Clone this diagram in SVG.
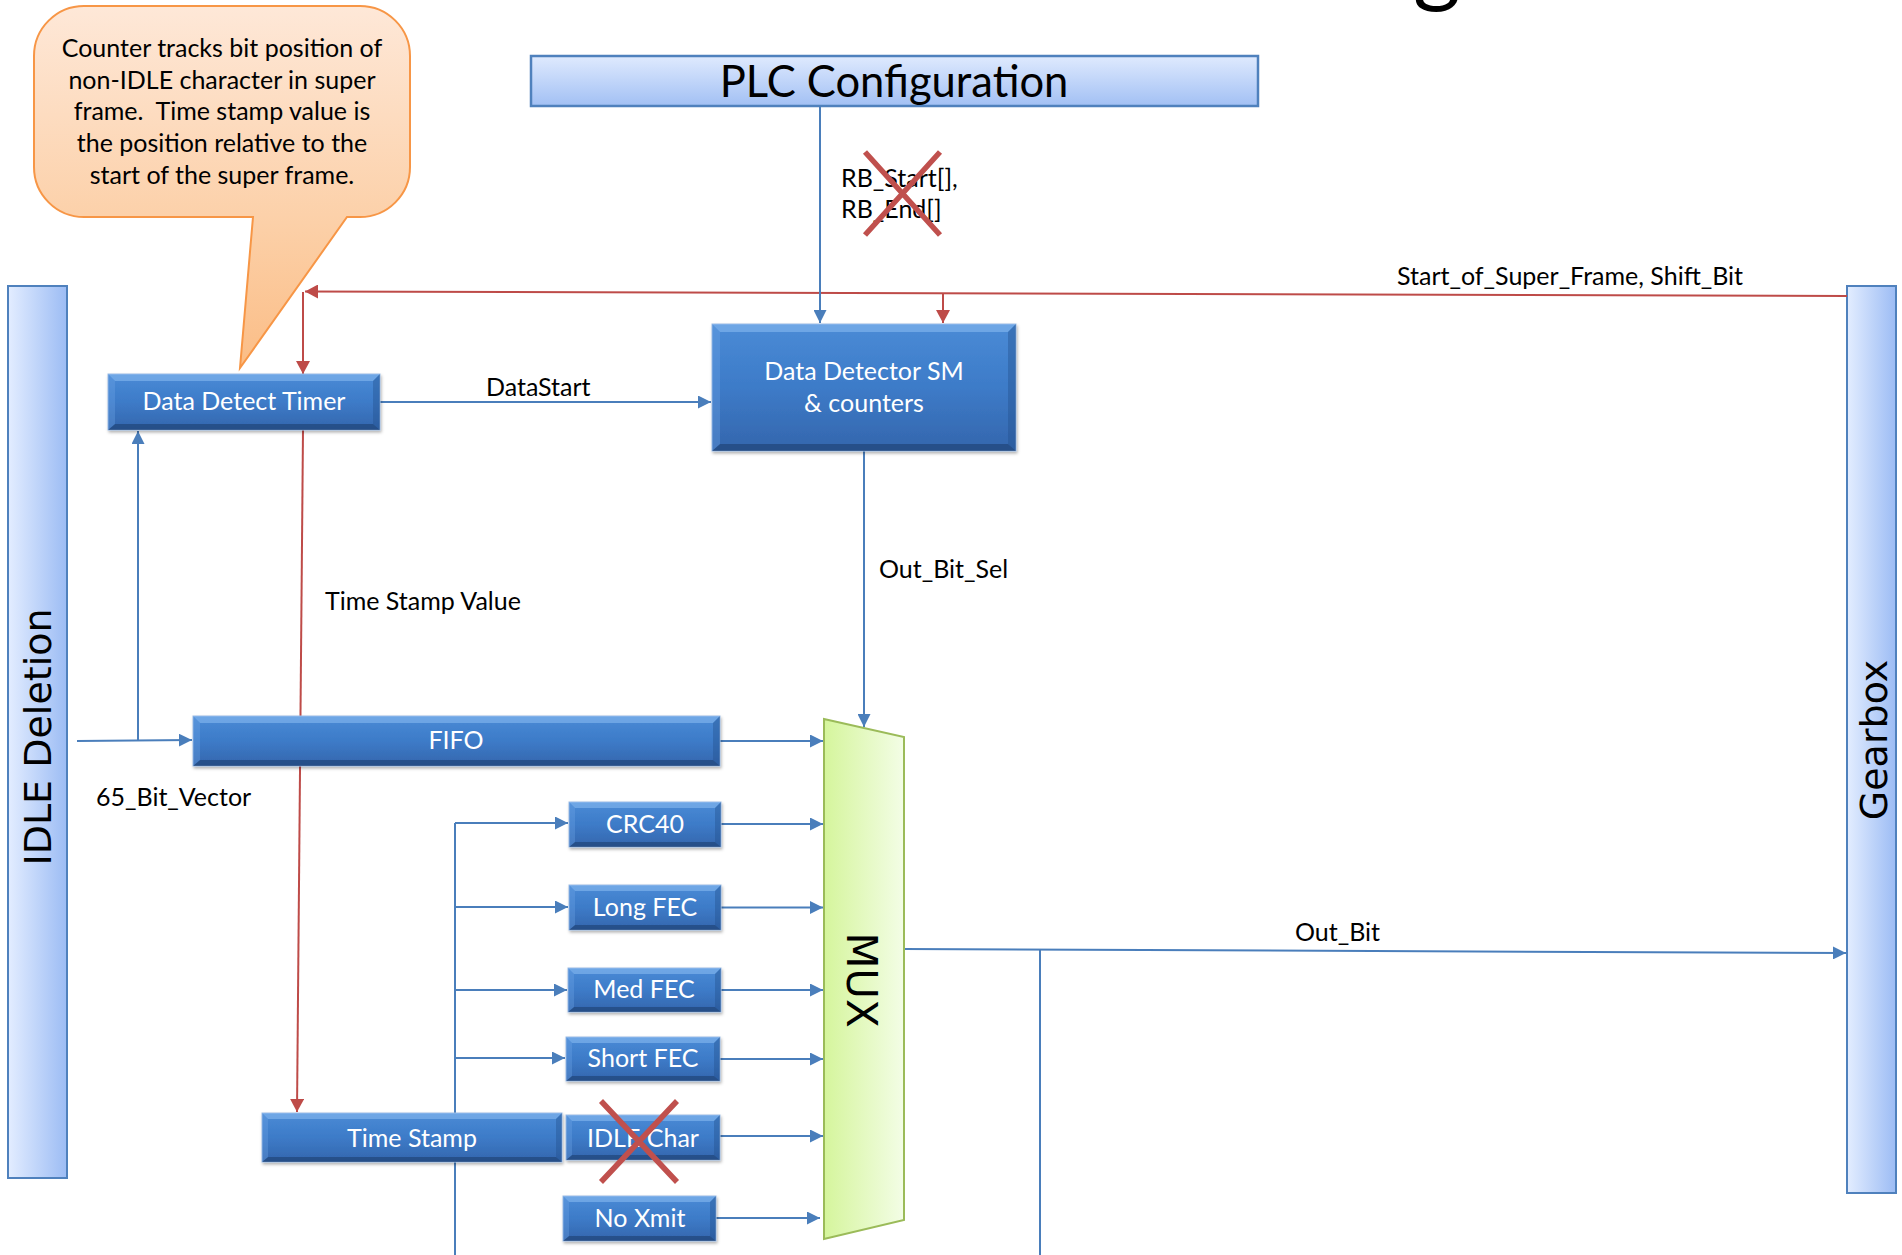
<svg xmlns="http://www.w3.org/2000/svg" width="1902" height="1255" viewBox="0 0 1902 1255">
  <defs>
    <style>
      .cal { font-family: Lato, Carlito, "Liberation Sans", sans-serif; font-size: 25px; fill: #000; }
      .wt { font-family: Lato, Carlito, "Liberation Sans", sans-serif; font-size: 25px; fill: #fff; text-anchor: middle; }
      .ver { font-family: "DejaVu Sans", Verdana, sans-serif; fill: #000; text-anchor: middle; }
      .cb { fill: none; stroke: #4a7ebb; stroke-width: 2; }
      .cr { fill: none; stroke: #be4b48; stroke-width: 2; }
      .cross { stroke: #c0504d; stroke-width: 5.5; stroke-linecap: butt; }
      .body { fill: url(#blk); stroke: #9dbbe3; stroke-width: 1; filter: url(#sh); }
      .bt { fill: #8cbef3; opacity: 0.55; }
      .bb { fill: #1d3f70; opacity: 0.6; }
      .bl { fill: #6ea4e6; opacity: 0.35; }
      .br { fill: #244f8c; opacity: 0.4; }
      .bar { stroke: #4f81bd; stroke-width: 2; }
    </style>
    <linearGradient id="blk" x1="0" y1="0" x2="0" y2="1">
      <stop offset="0" stop-color="#4a8bd6"/>
      <stop offset="0.5" stop-color="#3d7bc8"/>
      <stop offset="1" stop-color="#3466ad"/>
    </linearGradient>
    <linearGradient id="plc" x1="0" y1="0" x2="0" y2="1">
      <stop offset="0" stop-color="#dfeafe"/>
      <stop offset="1" stop-color="#a2c0f4"/>
    </linearGradient>
    <linearGradient id="side" x1="0" y1="0" x2="1" y2="0">
      <stop offset="0" stop-color="#e3edff"/>
      <stop offset="1" stop-color="#9cbcf4"/>
    </linearGradient>
    <linearGradient id="mux" x1="0" y1="0" x2="1" y2="0">
      <stop offset="0" stop-color="#d5f59c"/>
      <stop offset="1" stop-color="#f3fde6"/>
    </linearGradient>
    <linearGradient id="note" x1="0" y1="0" x2="0" y2="1">
      <stop offset="0" stop-color="#fee8d8"/>
      <stop offset="0.6" stop-color="#fcd0a8"/>
      <stop offset="1" stop-color="#fbbd86"/>
    </linearGradient>
    <filter id="sh" x="-5%" y="-10%" width="110%" height="130%">
      <feDropShadow dx="1" dy="2" stdDeviation="1.5" flood-color="#000" flood-opacity="0.3"/>
    </filter>
    <marker id="ab" markerUnits="userSpaceOnUse" markerWidth="14" markerHeight="13" refX="13" refY="6.5" orient="auto">
      <path d="M0,0 L13,6.5 L0,13 z" fill="#4a7ebb"/>
    </marker>
    <marker id="ar" markerUnits="userSpaceOnUse" markerWidth="14" markerHeight="14" refX="13" refY="7" orient="auto">
      <path d="M0,0 L13,7 L0,14 z" fill="#be4b48"/>
    </marker>
  </defs>

  <rect width="1902" height="1255" fill="#fff"/>

  <!-- tail of the slide title running off the top edge -->
  <text x="1413" y="-5" style="font-family: Lato, Carlito, 'Liberation Sans', sans-serif; font-size: 92px;">g</text>

  <!-- side blocks -->
  <g id="idle-deletion">
    <rect class="bar" x="8" y="286" width="59" height="892" fill="url(#side)"/>
    <text class="ver" transform="translate(51,737) rotate(-90)" font-size="38">IDLE Deletion</text>
  </g>
  <g id="gearbox">
    <rect class="bar" x="1847" y="286" width="49" height="907" fill="url(#side)"/>
    <text class="ver" transform="translate(1887,740) rotate(-90)" font-size="38">Gearbox</text>
  </g>

  <g id="plc-configuration">
    <rect x="531" y="56" width="727" height="50" fill="url(#plc)" stroke="#4f81bd" stroke-width="2.5"/>
    <text x="894" y="97" text-anchor="middle" style="font-family: Lato, Carlito, 'Liberation Sans', sans-serif; font-size: 43.5px;">PLC Configuration</text>
  </g>

  <g id="note">
    <path d="M84,6 H360 A50,50 0 0 1 410,56 V167 A50,50 0 0 1 360,217 H347 L240,368 L253,217 H84 A50,50 0 0 1 34,167 V56 A50,50 0 0 1 84,6 Z" fill="url(#note)" stroke="#f79646" stroke-width="2"/>
    <text class="cal" text-anchor="middle"><tspan x="222" y="57">Counter tracks bit position of</tspan><tspan x="222" y="89">non-IDLE character in super</tspan><tspan x="222" y="120">frame.&#160; Time stamp value is</tspan><tspan x="222" y="152">the position relative to the</tspan><tspan x="222" y="184">start of the super frame.</tspan></text>
  </g>

  <!-- connectors -->
  <g id="connectors">
    <path class="cr" d="M1847,296 L305,291.5" marker-end="url(#ar)"/>
    <path class="cr" d="M303,292 V374" marker-end="url(#ar)"/>
    <path class="cr" d="M943,293.5 V323" marker-end="url(#ar)"/>
    <path class="cr" d="M303,430 L297,1112" marker-end="url(#ar)"/>
    <path class="cb" d="M820,106 V323" marker-end="url(#ab)"/>
    <path class="cb" d="M380,402 H711" marker-end="url(#ab)"/>
    <path class="cb" d="M864,451 V727" marker-end="url(#ab)"/>
    <path class="cb" d="M77,741 L192,740" marker-end="url(#ab)"/>
    <path class="cb" d="M138,740.5 V431" marker-end="url(#ab)"/>
    <path class="cb" d="M720,741 H823" marker-end="url(#ab)"/>
    <path class="cb" d="M455,823 V1255"/>
    <path class="cb" d="M455,823 H568" marker-end="url(#ab)"/>
    <path class="cb" d="M455,907 H568" marker-end="url(#ab)"/>
    <path class="cb" d="M455,990 H567" marker-end="url(#ab)"/>
    <path class="cb" d="M455,1058 H565" marker-end="url(#ab)"/>
    <path class="cb" d="M721,824 H823" marker-end="url(#ab)"/>
    <path class="cb" d="M721,907.5 H823" marker-end="url(#ab)"/>
    <path class="cb" d="M721,990 H823" marker-end="url(#ab)"/>
    <path class="cb" d="M720,1059 H823" marker-end="url(#ab)"/>
    <path class="cb" d="M720,1136 H823" marker-end="url(#ab)"/>
    <path class="cb" d="M716,1218 H820" marker-end="url(#ab)"/>
    <path class="cb" d="M904,949 L1846,953" marker-end="url(#ab)"/>
    <path class="cb" d="M1040,949.5 V1255"/>
  </g>

  <!-- connector labels -->
  <g id="labels">
    <text class="cal" x="841" y="187">RB_Start[],</text>
    <text class="cal" x="841" y="218">RB_End[]</text>
    <text class="cal" x="1397" y="285">Start_of_Super_Frame, Shift_Bit</text>
    <text class="cal" x="486" y="396">DataStart</text>
    <text class="cal" x="879" y="578">Out_Bit_Sel</text>
    <text class="cal" x="325" y="610">Time Stamp Value</text>
    <text class="cal" x="96" y="806">65_Bit_Vector</text>
    <text class="cal" x="1295" y="941">Out_Bit</text>
  </g>

  <g id="data-detect-timer">
    <rect class="body" x="108" y="374" width="272" height="56"/>
    <polygon class="bt" points="108,374 380,374 373,381 115,381"/>
    <polygon class="bb" points="108,430 380,430 373,424 115,424"/>
    <polygon class="bl" points="108,374 115,381 115,424 108,430"/>
    <polygon class="br" points="380,374 373,381 373,424 380,430"/>
    <text class="wt" x="244" y="410">Data Detect Timer</text>
  </g>

  <g id="data-detector-sm">
    <rect class="body" x="712" y="324" width="304" height="127"/>
    <polygon class="bt" points="712,324 1016,324 1008,332 720,332"/>
    <polygon class="bb" points="712,451 1016,451 1008,444 720,444"/>
    <polygon class="bl" points="712,324 720,332 720,444 712,451"/>
    <polygon class="br" points="1016,324 1008,332 1008,444 1016,451"/>
    <text class="wt" x="864" y="380">Data Detector SM</text>
    <text class="wt" x="864" y="412">&amp; counters</text>
  </g>

  <g id="fifo">
    <rect class="body" x="193" y="716" width="527" height="50"/>
    <polygon class="bt" points="193,716 720,716 713,723 200,723"/>
    <polygon class="bb" points="193,766 720,766 713,760 200,760"/>
    <polygon class="bl" points="193,716 200,723 200,760 193,766"/>
    <polygon class="br" points="720,716 713,723 713,760 720,766"/>
    <text class="wt" x="456" y="749">FIFO</text>
  </g>

  <g id="crc40">
    <rect class="body" x="569" y="802" width="152" height="45"/>
    <polygon class="bt" points="569,802 721,802 715,808 575,808"/>
    <polygon class="bb" points="569,847 721,847 715,842 575,842"/>
    <polygon class="bl" points="569,802 575,808 575,842 569,847"/>
    <polygon class="br" points="721,802 715,808 715,842 721,847"/>
    <text class="wt" x="645" y="833">CRC40</text>
  </g>

  <g id="long-fec">
    <rect class="body" x="569" y="885" width="152" height="45"/>
    <polygon class="bt" points="569,885 721,885 715,891 575,891"/>
    <polygon class="bb" points="569,930 721,930 715,925 575,925"/>
    <polygon class="bl" points="569,885 575,891 575,925 569,930"/>
    <polygon class="br" points="721,885 715,891 715,925 721,930"/>
    <text class="wt" x="645" y="916">Long FEC</text>
  </g>

  <g id="med-fec">
    <rect class="body" x="568" y="968" width="153" height="44"/>
    <polygon class="bt" points="568,968 721,968 715,974 574,974"/>
    <polygon class="bb" points="568,1012 721,1012 715,1007 574,1007"/>
    <polygon class="bl" points="568,968 574,974 574,1007 568,1012"/>
    <polygon class="br" points="721,968 715,974 715,1007 721,1012"/>
    <text class="wt" x="644" y="998">Med FEC</text>
  </g>

  <g id="short-fec">
    <rect class="body" x="566" y="1037" width="154" height="44"/>
    <polygon class="bt" points="566,1037 720,1037 714,1043 572,1043"/>
    <polygon class="bb" points="566,1081 720,1081 714,1076 572,1076"/>
    <polygon class="bl" points="566,1037 572,1043 572,1076 566,1081"/>
    <polygon class="br" points="720,1037 714,1043 714,1076 720,1081"/>
    <text class="wt" x="643" y="1067">Short FEC</text>
  </g>

  <g id="time-stamp">
    <rect class="body" x="262" y="1113" width="300" height="49"/>
    <polygon class="bt" points="262,1113 562,1113 556,1119 268,1119"/>
    <polygon class="bb" points="262,1162 562,1162 556,1157 268,1157"/>
    <polygon class="bl" points="262,1113 268,1119 268,1157 262,1162"/>
    <polygon class="br" points="562,1113 556,1119 556,1157 562,1162"/>
    <text class="wt" x="412" y="1147">Time Stamp</text>
  </g>

  <g id="idle-char">
    <rect class="body" x="566" y="1115" width="154" height="45"/>
    <polygon class="bt" points="566,1115 720,1115 714,1121 572,1121"/>
    <polygon class="bb" points="566,1160 720,1160 714,1155 572,1155"/>
    <polygon class="bl" points="566,1115 572,1121 572,1155 566,1160"/>
    <polygon class="br" points="720,1115 714,1121 714,1155 720,1160"/>
    <text class="wt" x="643" y="1147">IDLE Char</text>
  </g>

  <g id="no-xmit">
    <rect class="body" x="563" y="1196" width="153" height="45"/>
    <polygon class="bt" points="563,1196 716,1196 710,1202 569,1202"/>
    <polygon class="bb" points="563,1241 716,1241 710,1236 569,1236"/>
    <polygon class="bl" points="563,1196 569,1202 569,1236 563,1241"/>
    <polygon class="br" points="716,1196 710,1202 710,1236 716,1241"/>
    <text class="wt" x="640" y="1227">No Xmit</text>
  </g>

  <g id="mux">
    <polygon points="824,719 904,737 904,1220 824,1239" fill="url(#mux)" stroke="#9bbb59" stroke-width="2"/>
    <text class="ver" transform="translate(847,980) rotate(90)" font-size="42">MUX</text>
  </g>

  <!-- strike-outs -->
  <g id="strikes">
    <path class="cross" d="M865,152 L940,235 M940,152 L865,235"/>
    <path class="cross" d="M601,1101 L677,1182 M677,1101 L601,1182"/>
  </g>
</svg>
